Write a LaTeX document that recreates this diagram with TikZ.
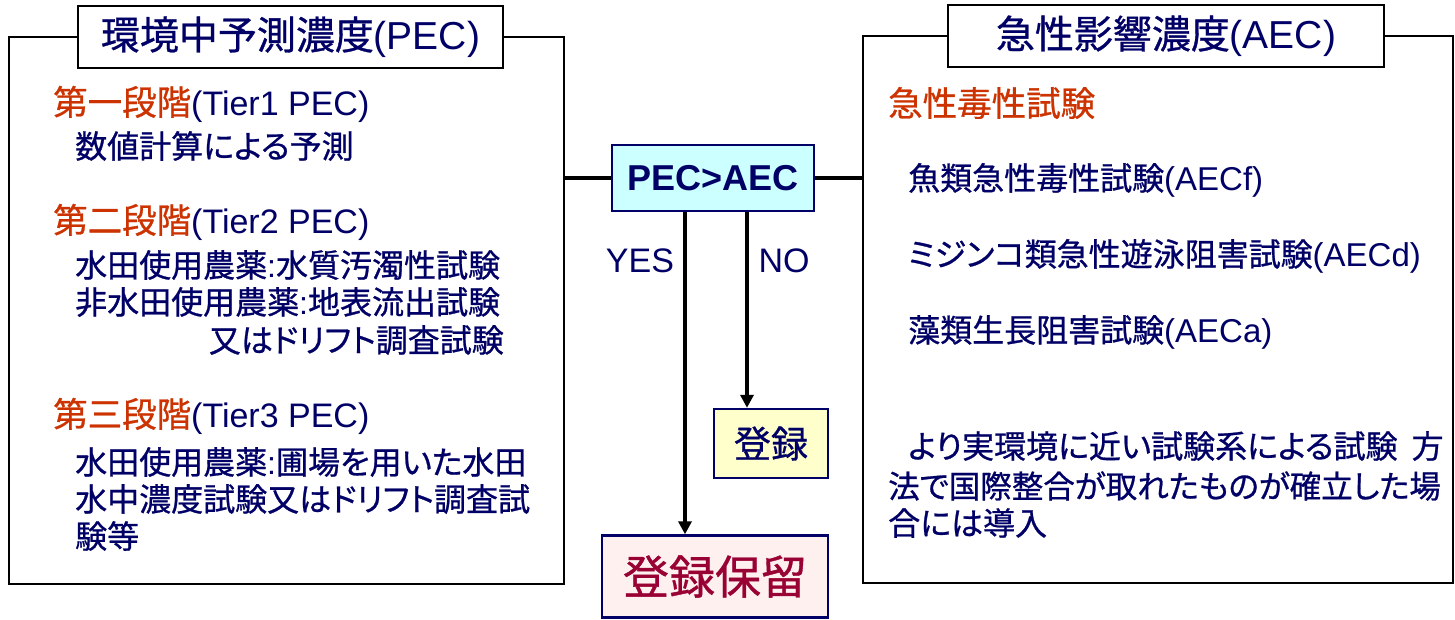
\documentclass[tikz,border=0pt]{standalone}
\usepackage{fontspec}
\usetikzlibrary{arrows.meta}
\setmainfont{Noto Sans CJK JP}[RawFeature=+palt]
\newfontfamily\jp{Noto Sans CJK JP}[RawFeature=+palt, FakeBold=0.8]
\newfontfamily\lat{Liberation Sans}
\definecolor{txtblue}{HTML}{000066}
\definecolor{hdred}{HTML}{CC3300}
\definecolor{wine}{HTML}{990033}
\definecolor{boxcyan}{HTML}{CCFFFF}
\definecolor{boxyellow}{HTML}{FFFFCC}
\definecolor{boxpink}{HTML}{FFF0F0}
\newcommand{\fs}[1]{\fontsize{#1}{#1}\selectfont}
\begin{document}
\begin{tikzpicture}[x=1pt,y=-1pt,
  panel/.style={draw=black, line width=1.6pt, fill=white, inner sep=0pt},
  titlebox/.style={draw=black, line width=1.6pt, fill=white, inner sep=0pt, text=txtblue},
  flowbox/.style={draw=txtblue, line width=2.4pt, inner sep=0pt},
  txt/.style={anchor=west, inner sep=0pt, text=txtblue, font=\jp\fs{32}},
  hdr/.style={anchor=west, inner sep=0pt, text=hdred, font=\jp\fs{34.5}},
  lbl/.style={inner sep=0pt, text=txtblue, font=\lat\fs{34}},
  conn/.style={draw=black, line width=3.8pt},
  arr/.style={draw=black, line width=3.8pt, -{Triangle[length=13pt,width=13pt]}}
]
\useasboundingbox (0,0) rectangle (1455,619);
\fill[white] (0,0) rectangle (1455,619);

% panels
\node[panel, minimum width=555pt, minimum height=547pt] (left) at (286.5,310.5) {};
\node[panel, minimum width=590pt, minimum height=547pt] (right) at (1158,309.5) {};
\node[titlebox, minimum width=425pt, minimum height=62pt] (ltitle) at (290.5,37)
  {\jp\fs{39}環境中予測濃度\lat\fs{39}(PEC)};
\node[titlebox, minimum width=436pt, minimum height=62pt] (rtitle) at (1166,36)
  {\jp\fs{39}急性影響濃度\lat\fs{39}(AEC)};

% left panel text
\node[hdr] (l1) at (53,104) {第一段階\textcolor{txtblue}{\lat\fs{34}(Tier1 PEC)}};
\node[txt] (l2) at (75,146) {数値計算による予測};
\node[hdr] (l3) at (53,222) {第二段階\textcolor{txtblue}{\lat\fs{34}(Tier2 PEC)}};
\node[txt] (l4) at (75,265) {水田使用農薬{\lat:}水質汚濁性試験};
\node[txt] (l5) at (75,302) {非水田使用農薬{\lat:}地表流出試験};
\node[txt, anchor=east] (l6) at (504,340) {又はドリフト調査試験};
\node[hdr] (l7) at (53,416) {第三段階\textcolor{txtblue}{\lat\fs{34}(Tier3 PEC)}};
\node[txt] (l8) at (75,462) {水田使用農薬{\lat:}圃場を用いた水田};
\node[txt] (l9) at (75,499) {水中濃度試験又はドリフト調査試};
\node[txt] (l10) at (75,536) {験等};

% right panel text
\node[hdr] (r1) at (888,103) {急性毒性試験};
\node[txt] (r2) at (908,180) {魚類急性毒性試験{\lat\fs{33}(AECf)}};
\node[txt] (r3) at (908,256) {ミジンコ類急性遊泳阻害試験{\lat\fs{33}(AECd)}};
\node[txt] (r4) at (908,332) {藻類生長阻害試験{\lat\fs{33}(AECa)}};
\node[txt] (r5) at (908,446) {より実環境に近い試験系による試験\hspace{14pt}方};
\node[txt, font=\jp\fs{31.5}] (r6) at (888,486) {法で国際整合が取れたものが確立した場};
\node[txt] (r7) at (888,523) {合には導入};

% flow boxes
\node[flowbox, fill=boxcyan, minimum width=202pt, minimum height=66pt, text=txtblue,
  font=\lat\bfseries\fs{36}] (pec) at (713,178) {PEC>AEC};
\node[flowbox, fill=boxyellow, minimum width=114pt, minimum height=69pt, text=txtblue,
  font=\jp\fs{37}] (reg) at (771,443.5) {登録};
\node[flowbox, fill=boxpink, minimum width=226pt, minimum height=82pt, text=wine,
  font=\jp\fs{46}] (hold) at (715,576.5) {登録保留};

% connectors
\coordinate (yesx) at (685,0);
\coordinate (nox) at (747,0);
\draw[conn] (pec.west) -- (pec.west -| left.east);
\draw[conn] (pec.east) -- (pec.east -| right.west);
\draw[arr] (pec.south -| yesx) -- (hold.north -| yesx);
\draw[arr] (pec.south -| nox) -- (reg.north -| nox);
\node[lbl] (yes) at (640,261) {YES};
\node[lbl] (no) at (784,261) {NO};
\end{tikzpicture}
\end{document}
